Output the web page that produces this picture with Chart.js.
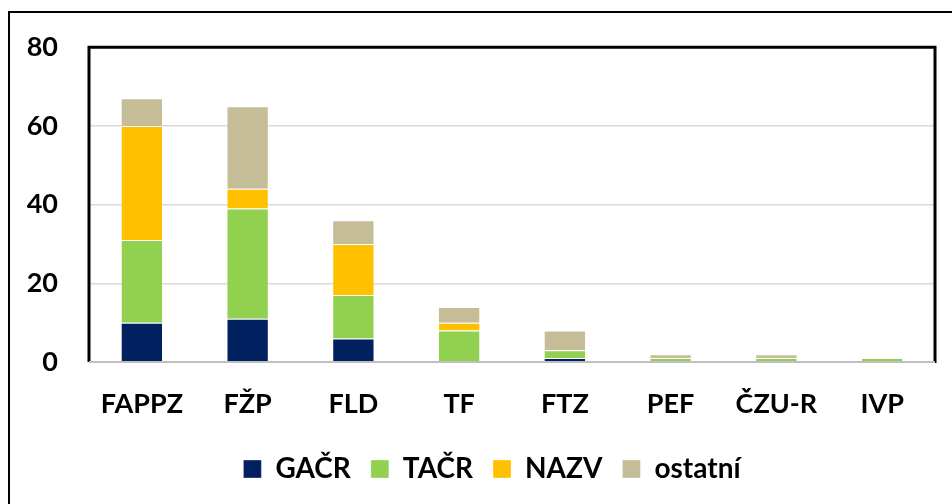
<!DOCTYPE html>
<html>
<head>
<meta charset="utf-8">
<script src="https://cdn.jsdelivr.net/npm/chart.js@4.4.1/dist/chart.umd.min.js"></script>
<style>
  html, body { margin: 0; padding: 0; background: #fff; overflow: hidden; }
  #wrap { width: 952px; height: 504px; position: relative; }
</style>
</head>
<body>
<div id="wrap"><canvas id="chartGranty" width="952" height="504"></canvas></div>
<script>
// kategorie (fakulty) a hodnoty jednotlivych poskytovatelu
const fakulty = ['FAPPZ', 'FŽP', 'FLD', 'TF', 'FTZ', 'PEF', 'ČZU-R', 'IVP'];
const gacr    = [10, 11, 6, 0, 1, 0, 0, 0];
const tacr    = [21, 28, 11, 8, 2, 1, 1, 1];
const nazv    = [29, 5, 13, 2, 0, 0, 0, 0];
const ostatni = [7, 21, 6, 4, 5, 1, 1, 0];
const yTicks  = [0, 20, 40, 60, 80];

const FONT = 'Lato, "Open Sans", sans-serif';

// ramecek kolem celeho grafu + kolem plochy grafu
const framePlugin = {
    id: 'frame',
    beforeDraw(chart) {
        // legenda je v originale vystredena podle plochy grafu
        const lg = chart.legend;
        if (lg) {
            lg.left = 49;
            lg.right = chart.width - 17;
            lg.width = lg.right - lg.left;
        }
        const c = chart.ctx;
        c.save();
        c.strokeStyle = '#000';
        c.lineWidth = 2;
        c.beginPath();
        c.moveTo(9, 520);
        c.lineTo(9, 12);
        c.lineTo(970, 12);
        c.stroke();
        c.restore();
    },
    afterDraw(chart) {
        const a = chart.chartArea;
        const c = chart.ctx;
        c.save();
        c.strokeStyle = '#000';
        c.lineWidth = 3;
        c.beginPath();
        c.moveTo(a.left, a.bottom);
        c.lineTo(a.left, a.top);
        c.lineTo(a.right, a.top);
        c.lineTo(a.right, a.bottom + 1);
        c.stroke();
        c.strokeStyle = '#bfbfbf';
        c.lineWidth = 2;
        c.beginPath();
        c.moveTo(a.left, a.bottom);
        c.lineTo(a.right, a.bottom);
        c.stroke();
        c.restore();
    }
};

function makeDataset(label, data, color) {
    return {
        label: label,
        data: data,
        backgroundColor: color,
        borderColor: 'rgba(255,255,255,0.35)',
        borderWidth: 1,
        barPercentage: 0.4,
        categoryPercentage: 1.0
    };
}

const ctx = document.getElementById('chartGranty');
new Chart(ctx, {
    type: 'bar',
    data: {
        labels: fakulty,
        datasets: [
            makeDataset('GAČR', gacr, '#002060'),
            makeDataset('TAČR', tacr, '#92D050'),
            makeDataset('NAZV', nazv, '#FFC000'),
            makeDataset('ostatní', ostatni, '#C4BD97')
        ]
    },
    options: {
        responsive: false,
        animation: false,
        layout: { padding: { left: 10, right: 17, top: 44, bottom: 11 } },
        scales: {
            x: {
                stacked: true,
                grid: { display: false },
                border: { display: false },
                ticks: {
                    color: '#000',
                    padding: 18,
                    font: { family: FONT, size: 27, weight: 'bold' }
                },
                afterFit(scale) { scale.height = 73; }
            },
            y: {
                stacked: true,
                min: 0,
                max: 80,
                afterBuildTicks(scale) { scale.ticks = yTicks.map(v => ({ value: v })); },
                grid: { color: '#d9d9d9', lineWidth: 1.5, drawTicks: false },
                border: { display: false },
                ticks: {
                    color: '#000',
                    padding: 31,
                    font: { family: FONT, size: 27, weight: 'bold' }
                },
                afterFit(scale) { scale.width = 79; }
            }
        },
        plugins: {
            legend: {
                position: 'bottom',
                labels: {
                    color: '#000',
                    boxWidth: 18,
                    boxHeight: 18,
                    padding: 20,
                    font: { family: FONT, size: 28, weight: 'bold' }
                }
            },
            tooltip: { enabled: false }
        }
    },
    plugins: [framePlugin]
});
</script>
</body>
</html>
